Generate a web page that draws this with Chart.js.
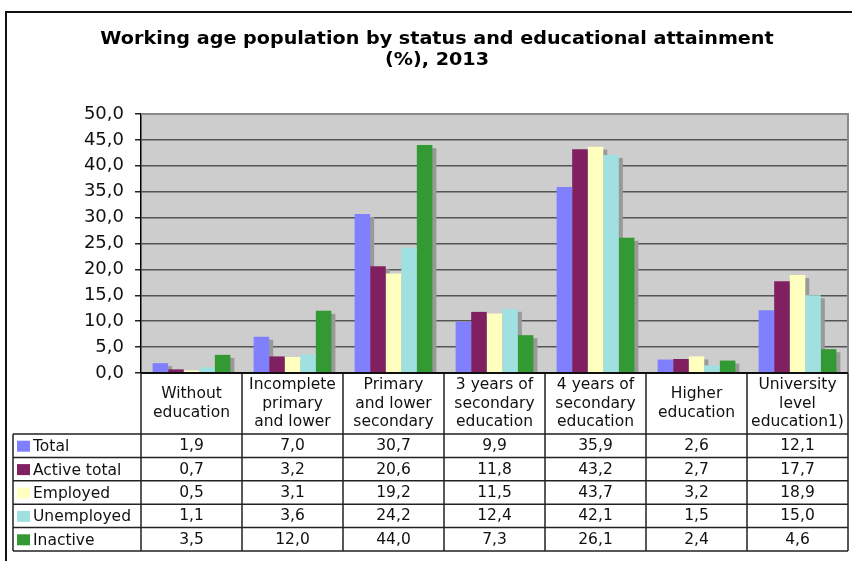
<!DOCTYPE html>
<html>
<head>
<meta charset="utf-8">
<title>Working age population by status and educational attainment</title>
<script src="https://cdn.jsdelivr.net/npm/chart.js@4"></script>
<style>
  html, body { margin: 0; padding: 0; background: #fff; }
  #wrap { width: 852px; height: 561px; }
</style>
</head>
<body>
<div id="wrap"><canvas id="eduChart" width="852" height="561"></canvas></div>
<script>
// categories (header lines of the table) and series values, 2013, %
const categories = [
    ['Without', 'education'],
    ['Incomplete', 'primary', 'and lower'],
    ['Primary', 'and lower', 'secondary'],
    ['3 years of', 'secondary', 'education'],
    ['4 years of', 'secondary', 'education'],
    ['Higher', 'education'],
    ['University', 'level', 'education1)']
];
const seriesNames = ['Total', 'Active total', 'Employed', 'Unemployed', 'Inactive'];
const total = [1.9, 7.0, 30.7, 9.9, 35.9, 2.6, 12.1];
const activeTotal = [0.7, 3.2, 20.6, 11.8, 43.2, 2.7, 17.7];
const employed = [0.5, 3.1, 19.2, 11.5, 43.7, 3.2, 18.9];
const unemployed = [1.1, 3.6, 24.2, 12.4, 42.1, 1.5, 15.0];
const inactive = [3.5, 12.0, 44.0, 7.3, 26.1, 2.4, 4.6];
const seriesColors = ['#8080ff', '#802060', '#ffffc0', '#a0e0e0', '#339933'];
const titleLines = ['Working age population by status and educational attainment', '(%), 2013'];

const seriesValues = [total, activeTotal, employed, unemployed, inactive];
const fmt = v => v.toFixed(1).replace('.', ',');
const FONT = '"DejaVu Sans", Verdana, sans-serif';

// grey drop shadows, painted once under all bars so neighbours cover them
const barShadow = {
    id: 'barShadow',
    beforeDatasetsDraw(chart) {
        const { ctx, chartArea: a } = chart;
        ctx.save();
        ctx.beginPath();
        ctx.rect(a.left, a.top, a.right - a.left, a.bottom - a.top);
        ctx.clip();
        ctx.fillStyle = '#999999';
        chart.data.datasets.forEach((ds, i) => {
            chart.getDatasetMeta(i).data.forEach(bar => {
                const p = bar.getProps(['x', 'y', 'base', 'width'], true);
                ctx.fillRect(p.x - p.width / 2 + 4, p.y + 3, p.width, p.base - p.y);
            });
        });
        ctx.restore();
    }
};

// plot background, title, frame and the data table under the axis
const decor = {
    id: 'decor',
    beforeDraw(chart) {
        const { ctx, chartArea: a } = chart;
        ctx.save();
        ctx.fillStyle = '#fff';
        ctx.fillRect(0, 0, chart.width, chart.height);
        ctx.fillStyle = '#cdcdcd';
        ctx.fillRect(a.left, a.top, a.right - a.left, a.bottom - a.top);
        ctx.restore();
    },
    afterDraw(chart) {
        const { ctx, chartArea: a } = chart;
        const x = chart.scales.x;
        ctx.save();

        // outer frame
        ctx.strokeStyle = '#111';
        ctx.lineWidth = 2;
        ctx.beginPath();
        ctx.moveTo(6, chart.height);
        ctx.lineTo(6, 12);
        ctx.lineTo(chart.width, 12);
        ctx.stroke();

        // plot area border (top / right)
        ctx.strokeStyle = '#8a8a8a';
        ctx.lineWidth = 2;
        ctx.beginPath();
        ctx.moveTo(a.left, a.top);
        ctx.lineTo(a.right, a.top);
        ctx.lineTo(a.right, a.bottom);
        ctx.stroke();

        // title, slightly widened
        ctx.save();
        ctx.fillStyle = '#000';
        ctx.font = 'bold 17px ' + FONT;
        ctx.textAlign = 'center';
        ctx.textBaseline = 'middle';
        ctx.translate(437, 0);
        ctx.scale(1.127, 1);
        ctx.fillText(titleLines[0], 0, 40);
        ctx.fillText(titleLines[1], 0, 61);
        ctx.restore();

        // data table
        const step = x.getPixelForValue(1) - x.getPixelForValue(0);
        const headTop = a.bottom, headBot = 434;
        const rowH = 23.4;
        const tabLeft = 13;
        const tabBot = headBot + rowH * seriesNames.length;
        const colEdges = categories.map((c, i) => x.getPixelForValue(i) - step / 2);
        colEdges.push(a.right);

        ctx.strokeStyle = '#222';
        ctx.lineWidth = 1.5;
        ctx.beginPath();
        ctx.moveTo(a.left, headTop); ctx.lineTo(a.right, headTop);
        colEdges.forEach(cx => { ctx.moveTo(cx, headTop); ctx.lineTo(cx, tabBot); });
        for (let r = 0; r <= seriesNames.length; r++) {
            const y = headBot + r * rowH;
            ctx.moveTo(tabLeft, y); ctx.lineTo(a.right, y);
        }
        ctx.moveTo(tabLeft, headBot); ctx.lineTo(tabLeft, tabBot);
        ctx.stroke();

        // axis line over the table top
        ctx.strokeStyle = '#000';
        ctx.beginPath();
        ctx.moveTo(a.left, a.bottom); ctx.lineTo(a.right, a.bottom);
        ctx.stroke();

        ctx.font = '15.5px ' + FONT;
        ctx.fillStyle = '#111';
        ctx.textAlign = 'center';
        ctx.textBaseline = 'middle';
        const lineGap = 18.5;
        categories.forEach((lines, i) => {
            const cx = x.getPixelForValue(i);
            const mid = (headTop + headBot) / 2;
            lines.forEach((t, k) => {
                ctx.fillText(t, cx, mid + (k - (lines.length - 1) / 2) * lineGap);
            });
        });

        seriesNames.forEach((name, r) => {
            const cy = headBot + r * rowH + rowH / 2 + 0.5;
            ctx.fillStyle = seriesColors[r];
            ctx.fillRect(17, cy - 5.5, 13, 11);
            ctx.fillStyle = '#111';
            ctx.textAlign = 'left';
            ctx.fillText(name, 33, cy + 1);
            ctx.textAlign = 'center';
            seriesValues[r].forEach((v, i) => {
                ctx.fillText(fmt(v), x.getPixelForValue(i), cy);
            });
        });

        ctx.restore();
    }
};

new Chart(document.getElementById('eduChart'), {
    type: 'bar',
    data: {
        labels: categories.map(c => c.join(' ')),
        datasets: seriesNames.map((name, i) => ({
            label: name,
            data: seriesValues[i],
            backgroundColor: seriesColors[i],
            borderWidth: 0,
            clip: 0,
            barPercentage: 1,
            categoryPercentage: 0.77
        }))
    },
    options: {
        responsive: false,
        animation: false,
        layout: { padding: { top: 114, left: 0, right: 4, bottom: 188 } },
        plugins: {
            legend: { display: false },
            tooltip: { enabled: false },
            title: { display: false }
        },
        scales: {
            x: { display: false },
            y: {
                min: 0,
                max: 50,
                afterFit(scale) { scale.width = 141; },
                ticks: {
                    stepSize: 5,
                    padding: 11,
                    color: '#111',
                    font: { family: FONT, size: 18 },
                    callback: v => fmt(v)
                },
                grid: {
                    color: '#555',
                    lineWidth: 1.5,
                    tickColor: '#222',
                    tickLength: 6
                },
                border: { color: '#000', width: 1.5 }
            }
        }
    },
    plugins: [decor, barShadow]
});
</script>
</body>
</html>
